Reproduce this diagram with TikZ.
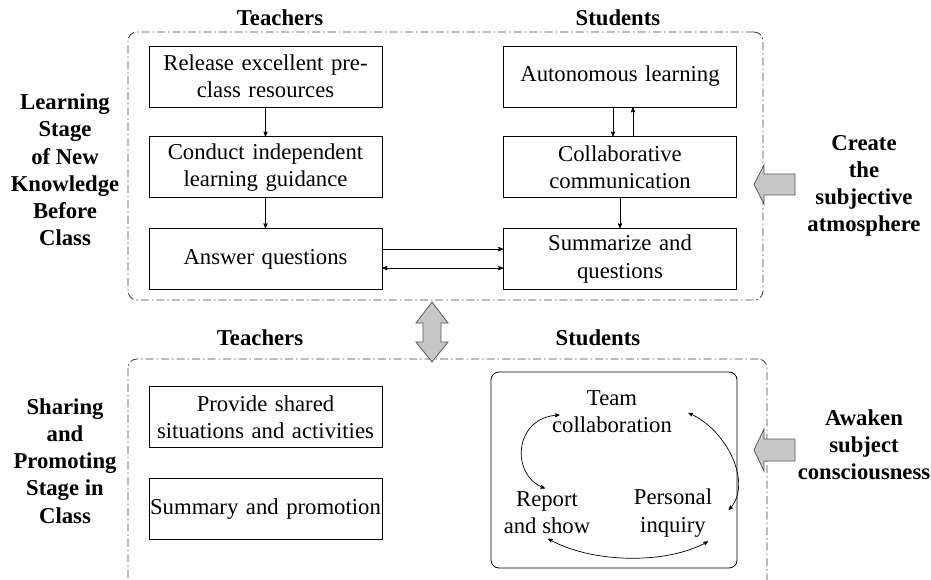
\documentclass[tikz,border=0pt]{standalone}
\usepackage{fontspec}
\setmainfont{Liberation Serif}
\usetikzlibrary{arrows,positioning,calc}
\newcommand{\tekst}{\fontsize{22.7}{27.2}\selectfont}
\tikzset{
    %Define standard arrow tip
    >=stealth',
    %Define style for boxes
    boks/.style={
           rectangle,
           draw=black, line width=0.8pt,
           minimum width=233pt,
           minimum height=61pt,
           text width=231pt,
           inner xsep=1pt,
           inner ysep=2pt,
           align=center},
    % Define arrow style
    pil/.style={
           ->,
           line width=0.8pt},
    % Bold headings and stage names
    tittel/.style={
           font=\tekst\bfseries,
           align=center},
    % Dash-dot frame round a stage
    ramme/.style={
           draw=black!75, line width=0.8pt,
           dash pattern=on 8pt off 3pt on 1.5pt off 3pt,
           rounded corners=9pt},
    % Grey block arrows
    blokk/.style={
           draw=black!65, line width=0.8pt,
           fill=black!22},
    % Curved arrows of the cycle
    bue/.style={
           <->,
           line width=0.7pt}
}

\begin{document}
\begin{tikzpicture}[x=1pt, y=1pt, font=\tekst]
    \useasboundingbox (0,0) rectangle (931,579);
    % stage before class
    \node[ramme, minimum width=635pt, minimum height=268pt] (fase1) at (445.5,413) {};
    \node[tittel] (thead1) at (280,561) {Teachers};
    \node[tittel] (shead1) at (618,561) {Students};
    \node[tittel] (stage1) at (65,409) {Learning\\Stage\\of New\\Knowledge\\Before\\Class};
    \node[boks] (t1) at (265.5,502.5) {Release excellent pre-\\class resources};
    \node[boks, below=29pt of t1] (t2) {Conduct independent\\learning guidance};
    \node[boks, below=30pt of t2] (t3) {Answer questions};
    \node[boks] (r1) at (620,502.5) {Autonomous learning};
    \node[boks, below=29pt of r1] (r2) {Collaborative\\communication};
    \node[boks, below=30pt of r2] (r3) {Summarize and\\questions};
    \draw[pil] (t1) -- (t2);
    \draw[pil] (t2) -- (t3);
    \draw[pil] ([xshift=-7pt]r1.south) -- ([xshift=-7pt]r2.north);
    \draw[pil] ([xshift=13pt]r2.north) -- ([xshift=13pt]r1.south);
    \draw[pil] (r2) -- (r3);
    \draw[pil] ([yshift=10pt]t3.east) -- ([yshift=10pt]r3.west);
    \draw[pil, <->] ([yshift=-9pt]t3.east) -- ([yshift=-9pt]r3.west);
    \node[tittel] (create) at (864,393) {Create\\the\\subjective\\atmosphere};
    \draw[blokk] (795,405) -- (764,405) -- (764,414) -- (754,394.5) -- (764,375) -- (764,384) -- (795,384) -- cycle;
    % stage in class
    \node[ramme, minimum width=639pt, minimum height=250pt] (fase2) at (447.5,95) {};
    \draw[blokk] (423,256) -- (416,256) -- (432,277) -- (448,256) -- (441,256) -- (441,237)
        -- (448,237) -- (432,217) -- (416,237) -- (423,237) -- cycle;
    \node[tittel] (thead2) at (260,241) {Teachers};
    \node[tittel] (shead2) at (598,241) {Students};
    \node[tittel] (stage2) at (65,118) {Sharing\\and\\Promoting\\Stage in\\Class};
    \node[boks] (t4) at (265.5,162) {Provide shared\\situations and activities};
    \node[boks, below=30pt of t4] (t5) {Summary and promotion};
    \node[draw, line width=0.8pt, rounded corners=8pt, minimum width=246pt, minimum height=196pt] (syklus) at (614,109) {};
    \node[align=center] (team) at (612,167) {Team\\collaboration};
    \node[align=center] (report) at (547,66) {Report\\and show};
    \node[align=center] (inquiry) at (673,66) {Personal\\inquiry};
    \draw[bue] ([xshift=11pt,yshift=-3pt]team.west) .. controls +(-46,-2) and +(-35,13) .. ([xshift=-2pt]report.north);
    \draw[bue] ([xshift=13pt,yshift=-1pt]team.east) .. controls +(38,-16) and +(25,26) .. ([xshift=13pt,yshift=3pt]inquiry.east);
    \draw[bue] ([xshift=1pt,yshift=-1pt]report.south) .. controls +(42,-24) and +(-43,-24) .. ([xshift=35pt,yshift=-1pt]inquiry.south);
    \node[tittel] (awaken) at (864,134) {Awaken\\subject\\consciousness};
    \draw[blokk] (795,140) -- (764,140) -- (764,150) -- (754,129) -- (764,108) -- (764,118) -- (795,118) -- cycle;
\end{tikzpicture}
\end{document}
